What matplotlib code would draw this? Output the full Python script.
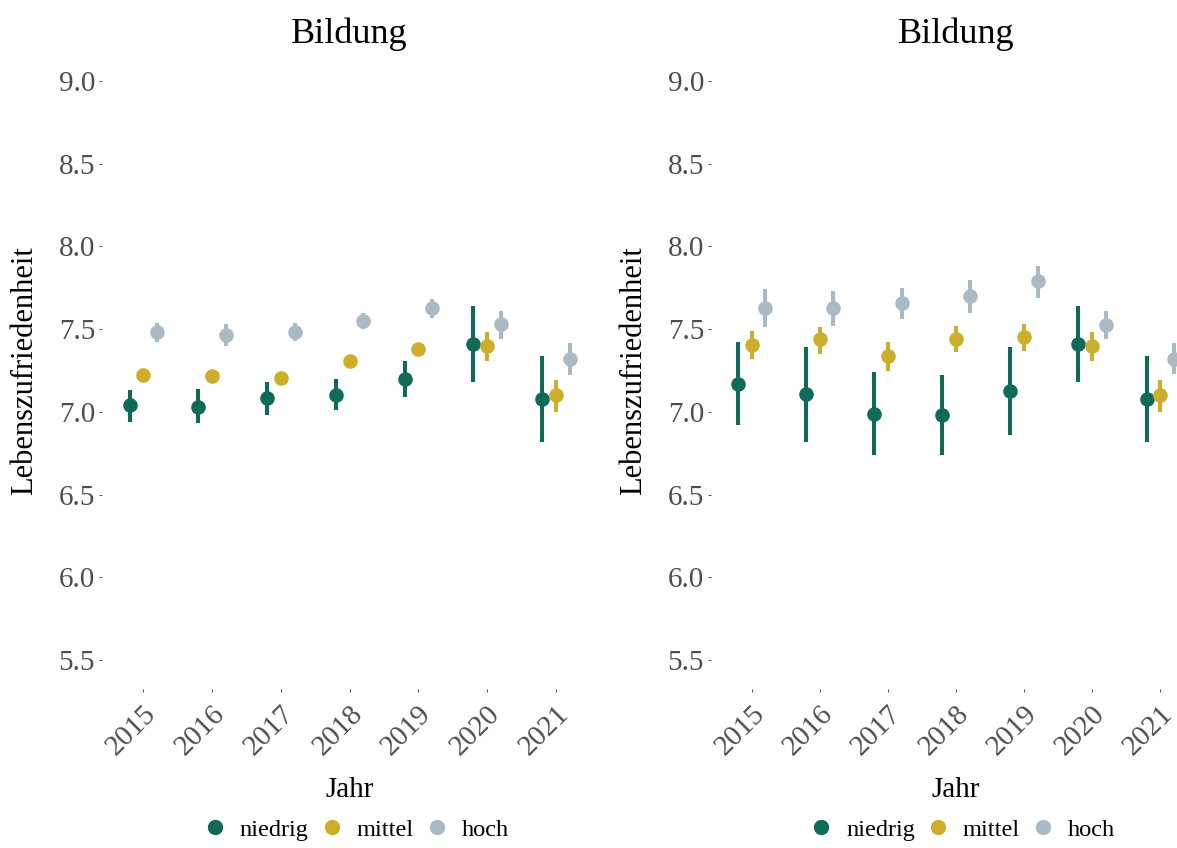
import matplotlib
matplotlib.use('Agg')
import matplotlib.pyplot as plt
from matplotlib.lines import Line2D
import numpy as np

plt.rcParams['font.family'] = ['Liberation Serif', 'DejaVu Serif']

years = ['2015', '2016', '2017', '2018', '2019', '2020', '2021']
groups = ['niedrig', 'mittel', 'hoch']
colors = ['#0f6a58', '#cdae2a', '#a9bac5']

# left panel: mean, lower, upper
left_niedrig = [7.04, 7.03, 7.085, 7.10, 7.20, 7.41, 7.08]
left_niedrig_lo = [6.94, 6.93, 6.98, 7.01, 7.09, 7.18, 6.82]
left_niedrig_hi = [7.13, 7.14, 7.18, 7.20, 7.31, 7.64, 7.34]
left_mittel = [7.225, 7.215, 7.205, 7.31, 7.38, 7.40, 7.10]
left_mittel_lo = [7.20, 7.19, 7.18, 7.285, 7.355, 7.31, 7.00]
left_mittel_hi = [7.25, 7.24, 7.23, 7.335, 7.405, 7.48, 7.19]
left_hoch = [7.48, 7.465, 7.485, 7.55, 7.63, 7.53, 7.32]
left_hoch_lo = [7.42, 7.40, 7.43, 7.50, 7.57, 7.44, 7.225]
left_hoch_hi = [7.54, 7.53, 7.54, 7.60, 7.685, 7.61, 7.415]

# right panel
right_niedrig = [7.17, 7.105, 6.99, 6.98, 7.125, 7.41, 7.08]
right_niedrig_lo = [6.92, 6.82, 6.74, 6.74, 6.86, 7.18, 6.82]
right_niedrig_hi = [7.42, 7.39, 7.24, 7.22, 7.39, 7.64, 7.34]
right_mittel = [7.405, 7.44, 7.34, 7.44, 7.455, 7.40, 7.10]
right_mittel_lo = [7.32, 7.35, 7.25, 7.36, 7.37, 7.31, 7.00]
right_mittel_hi = [7.49, 7.515, 7.425, 7.52, 7.53, 7.48, 7.19]
right_hoch = [7.63, 7.625, 7.655, 7.70, 7.79, 7.525, 7.32]
right_hoch_lo = [7.51, 7.52, 7.56, 7.60, 7.69, 7.44, 7.23]
right_hoch_hi = [7.74, 7.73, 7.75, 7.80, 7.88, 7.61, 7.415]

left = [(left_niedrig, left_niedrig_lo, left_niedrig_hi),
        (left_mittel, left_mittel_lo, left_mittel_hi),
        (left_hoch, left_hoch_lo, left_hoch_hi)]
right = [(right_niedrig, right_niedrig_lo, right_niedrig_hi),
         (right_mittel, right_mittel_lo, right_mittel_hi),
         (right_hoch, right_hoch_lo, right_hoch_hi)]

fig = plt.figure(figsize=(11.77, 8.48), dpi=100)
W, H = 1177, 848


def panel(px0, px1, series):
    ax = fig.add_axes([px0 / W, 1 - 689 / H, (px1 - px0) / W, (689 - 52) / H])
    x = np.arange(1, len(years) + 1)
    for k, (mean, lo, hi) in enumerate(series):
        xs = x + (k - 1) * 0.2
        ax.vlines(xs, lo, hi, color=colors[k], lw=2.9, zorder=2)
        ax.plot(xs, mean, 'o', color=colors[k], ms=10.5, mew=0, zorder=3)
    ax.set_xlim(0.4, 7.6)
    ax.set_ylim(5.325, 9.175)
    ax.set_yticks([5.5, 6.0, 6.5, 7.0, 7.5, 8.0, 8.5, 9.0])
    ax.set_yticklabels(['5.5', '6.0', '6.5', '7.0', '7.5', '8.0', '8.5', '9.0'])
    ax.set_xticks(x)
    ax.set_xticklabels(years, rotation=45, ha='right', va='top', rotation_mode='anchor')
    for s in ax.spines.values():
        s.set_visible(False)
    ax.tick_params(axis='both', length=2.5, width=0.6, color='#333333',
                   labelcolor='#4d4d4d', labelsize=21, pad=2.5)
    ax.tick_params(axis='x', pad=6)
    ax.set_title('Bildung', fontsize=26, color='black', pad=6.5)
    ax.set_ylabel('Lebenszufriedenheit', fontsize=22, labelpad=14)
    ax.set_xlabel('Jahr', fontsize=21, labelpad=12)
    handles = [Line2D([], [], marker='o', ls='none', color=c, ms=10) for c in colors]
    ax.legend(handles, groups, loc='center', bbox_to_anchor=(0.51, -0.221),
              ncol=3, frameon=False, fontsize=17.6, handletextpad=0.42,
              columnspacing=0.35, handlelength=1.2)
    return ax


panel(102, 597, left)
panel(711, 1201, right)

plt.savefig('out.png', dpi=100)
